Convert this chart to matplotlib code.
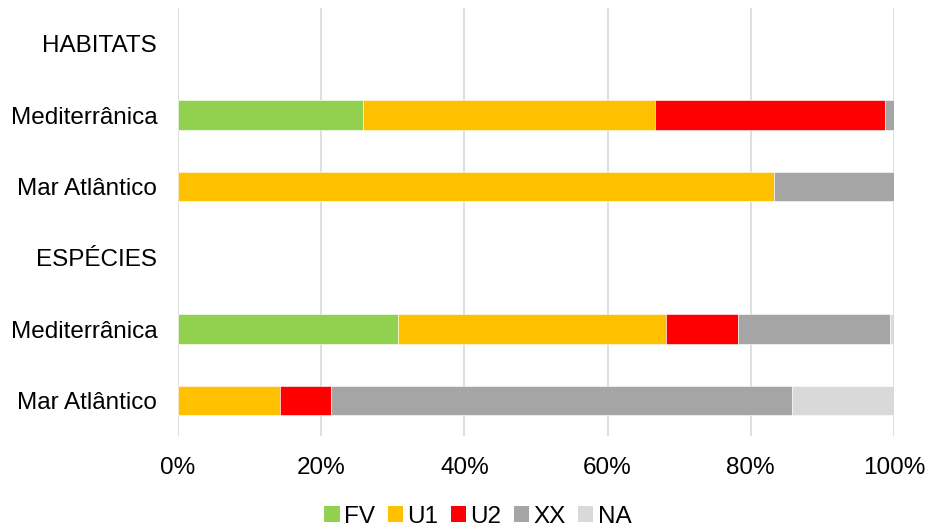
import numpy as np
import matplotlib.pyplot as plt

plt.rcParams['font.family'] = ['Liberation Sans', 'DejaVu Sans']

# rows from top to bottom; section headers have no bars
rows = ['HABITATS', 'Mediterrânica', 'Mar Atlântico', 'ESPÉCIES', 'Mediterrânica', 'Mar Atlântico']
series = ['FV', 'U1', 'U2', 'XX', 'NA']
colors = ['#92D050', '#FFC000', '#FF0000', '#A5A5A5', '#D9D9D9']

# shares in percent per row
fv = [0, 25.9, 0.0, 0, 30.7, 0.0]
u1 = [0, 40.7, 83.3, 0, 37.5, 14.3]
u2 = [0, 32.2, 0.0, 0, 10.0, 7.1]
xx = [0, 1.2, 16.7, 0, 21.3, 64.3]
na = [0, 0.0, 0.0, 0, 0.5, 14.3]

fs = 17.5

fig = plt.figure(figsize=(9.3, 5.31), dpi=100)
ax = fig.add_axes([178 / 930, 1 - 436 / 531, (894 - 178) / 930, 428 / 531])

y = np.arange(len(rows))
left = np.zeros(len(rows))
for name, vals, c in zip(series, [fv, u1, u2, xx, na], colors):
    vals = np.array(vals)
    # empty segments get no edge so they don't hide the gridline at 0
    lw = np.where(vals > 0, 0.4, 0)
    ax.barh(y, vals, left=left, height=0.41, color=c, label=name,
            edgecolor='white', linewidth=lw)
    left += vals

ax.set_xlim(0, 100)
ax.set_ylim(len(rows) - 0.5, -0.5)
ax.set_yticks(y)
ax.set_yticklabels(rows, fontsize=fs)
ax.set_xticks(range(0, 101, 20))
ax.set_xticklabels([f'{v}%' for v in range(0, 101, 20)], fontsize=fs)
ax.tick_params(length=0)
ax.tick_params(axis='y', pad=15)
ax.tick_params(axis='x', pad=15)
for s in ax.spines.values():
    s.set_visible(False)
ax.grid(axis='x', color='#d9d9d9', linewidth=1.2)
ax.set_axisbelow(True)

fig.legend(loc='lower center', bbox_to_anchor=(0.514, -0.035), ncol=5, frameon=False,
           fontsize=fs, handlelength=0.62, handleheight=0.62, handletextpad=0.2,
           columnspacing=0.5)

fig.savefig('out.png', dpi=100)
